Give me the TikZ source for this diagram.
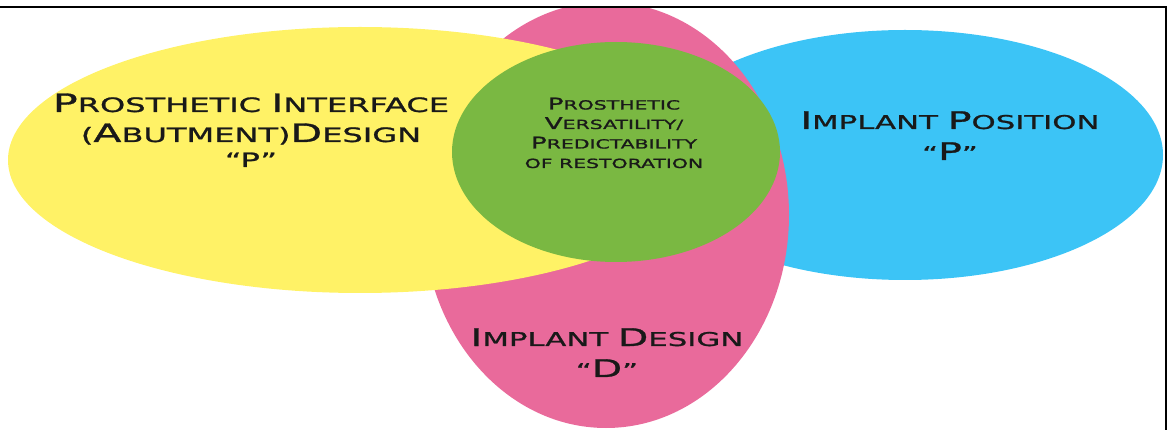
\documentclass[tikz,border=0pt]{standalone}
\usepackage{fontspec}
\usepackage{graphicx}
\newfontfamily\vennfont[FakeStretch=1.62,FakeBold=1.2,Ligatures=TeX]{DejaVu Sans}
\definecolor{venyellow}{RGB}{255,242,102}
\definecolor{venpink}{RGB}{233,106,155}
\definecolor{vengreen}{RGB}{122,184,66}
\definecolor{venblue}{RGB}{60,196,246}
% bigger initial of a small-caps word
\newcommand{\Ini}[1]{\scalebox{1.28}{#1}}

\begin{document}
\begin{tikzpicture}[x=1pt,y=-1pt,
  biglabel/.style={align=center,inner sep=0pt,anchor=base,text=black!90,
    font=\vennfont\fontsize{19}{31}\selectfont},
  smalllabel/.style={align=center,inner sep=0pt,anchor=base,text=black!90,
    font=\vennfont\fontsize{12.6}{19.5}\selectfont}]
\useasboundingbox (0,0) rectangle (1173,430);
\begin{scope}
\clip (0,7) rectangle (1166,430);
\fill[venblue] (905,155) ellipse [x radius=258, y radius=125];
\fill[venpink] (606,215) ellipse [x radius=183, y radius=213];
\fill[venyellow] (360,160) ellipse [x radius=352, y radius=133];
\fill[vengreen] (616,152) ellipse [x radius=164, y radius=110];
\end{scope}
%
\node[biglabel,font=\vennfont\fontsize{19.8}{30}\selectfont] (abut) at (251,167)
  {\Ini{P}ROSTHETIC \Ini{I}NTERFACE\\(\Ini{A}BUTMENT)\Ini{D}ESIGN\\[-5pt]``P''};
\node[smalllabel] (versa) at (614,168)
  {\Ini{P}ROSTHETIC\\\Ini{V}ERSATILITY/\\\Ini{P}REDICTABILITY\\OF RESTORATION};
\node[biglabel] (posit) at (950,160) {\Ini{I}MPLANT \Ini{P}OSITION\\``\Ini{P}''};
\node[biglabel] (implant) at (607,377) {\Ini{I}MPLANT \Ini{D}ESIGN\\``\Ini{D}''};
%
\draw[line width=1.6pt] (0,7) -- (1166,7) -- (1166,430);
\end{tikzpicture}
\end{document}
